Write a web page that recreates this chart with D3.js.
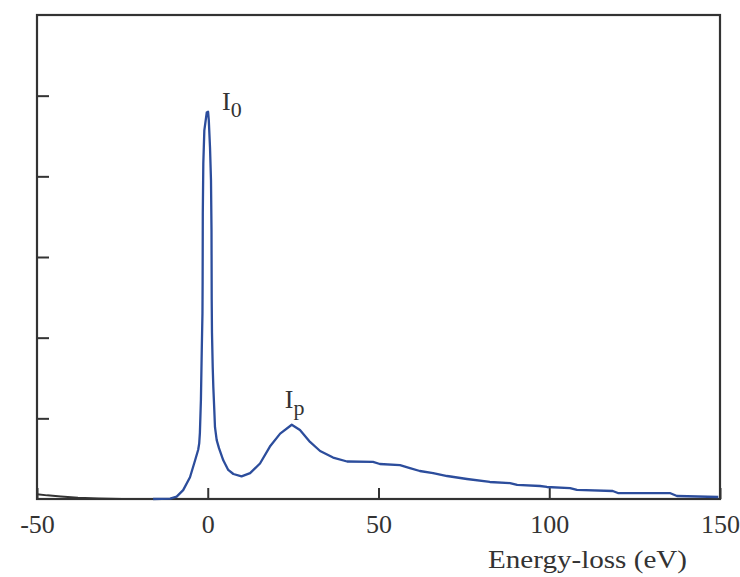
<!DOCTYPE html>
<html>
<head>
<meta charset="utf-8">
<script src="https://cdn.jsdelivr.net/npm/d3@7"></script>
<style>
  body { margin: 0; background: #fff; }
  svg text { font-family: "Liberation Serif", "Times New Roman", serif; fill: #333; }
</style>
</head>
<body>
<svg id="chart" width="740" height="577"></svg>
<script>
// Energy-loss spectrum (eV, arbitrary intensity)
var energy = [-16, -11, -9.1, -7.2, -5.2, -3.7, -2.8, -2.5, -2.3, -2.0, -1.75, -1.55, -1.5, -1.45, -1.3, -1.0, -0.3,
	0.1, 0.3, 0.66, 0.95, 1.1, 1.16, 1.24, 1.45, 1.63, 1.92, 2.12, 2.62, 3.29, 4.55, 6.0, 7.5, 9.9,
	12.4, 15.3, 18.2, 21.2, 24.6, 27.0, 29.95, 32.9, 36.7, 40.8, 48.4, 50.4, 56.3, 59.2, 62.1, 66.0,
	70.1, 75.9, 82.6, 88.5, 90.6, 97.3, 99.3, 106.1, 108.1, 118.6, 120.1, 135.3, 137.4, 149.5];
var intensity = [0, 0.005, 0.03, 0.11, 0.27, 0.48, 0.61, 0.69, 0.82, 1.23, 1.85, 2.3, 2.71, 3.55, 4.16, 4.57, 4.79,
	4.8, 4.7, 4.36, 3.95, 3.33, 2.47, 2.06, 1.64, 1.39, 1.10, 0.89, 0.73, 0.63, 0.48, 0.36, 0.31, 0.28,
	0.32, 0.44, 0.65, 0.81, 0.92, 0.855, 0.707, 0.595, 0.514, 0.465, 0.459, 0.434, 0.421, 0.384, 0.347, 0.322,
	0.285, 0.248, 0.211, 0.198, 0.174, 0.161, 0.149, 0.136, 0.112, 0.099, 0.074, 0.074, 0.037, 0.025];

// dark baseline piece on the gain side
var tailEnergy = [-50, -47, -43, -38, -32, -25, -16];
var tailIntensity = [0.06, 0.045, 0.03, 0.015, 0.006, 0, 0];

var xTickValues = [-50, 0, 50, 100, 150];
var yTickValues = [1, 2, 3, 4, 5];

// peak labels: main letter, subscript, energy of the peak
var peakNames = ['I', 'I'];
var peakSubs = ['0', 'p'];
var peakEnergy = [0.1, 24.6];

var svg = d3.select('#chart');

var margin = {top: 15, right: 20, bottom: 78, left: 37};
var width = 740 - margin.left - margin.right,
	height = 577 - margin.top - margin.bottom;

var x = d3.scaleLinear().domain([-50, 150]).range([margin.left, margin.left + width]);
var y = d3.scaleLinear().domain([0, 6]).range([margin.top + height, margin.top]);

// x axis, ticks pointing inside the frame
svg.append('g')
	.attr('transform', 'translate(0,' + (margin.top + height) + ')')
	.call(d3.axisBottom(x).tickValues(xTickValues).tickSize(-11).tickPadding(16)
		.tickFormat(function(d) { return String(d); }))
	.call(function(g) { g.select('.domain').remove(); })
	.call(function(g) {
		g.selectAll('line').attr('stroke', '#333').attr('stroke-width', 2);
		g.selectAll('text').style('font-size', '26px').attr('fill', '#333');
	});

// y axis, no labels
svg.append('g')
	.attr('transform', 'translate(' + margin.left + ',0)')
	.call(d3.axisLeft(y).tickValues(yTickValues).tickSize(-12).tickFormat(''))
	.call(function(g) { g.select('.domain').remove(); })
	.call(function(g) { g.selectAll('line').attr('stroke', '#333').attr('stroke-width', 2); });

// frame
svg.append('rect')
	.attr('x', margin.left)
	.attr('y', margin.top)
	.attr('width', width)
	.attr('height', height)
	.attr('fill', 'none')
	.attr('stroke', '#333')
	.attr('stroke-width', 2.2);

var line = d3.line()
	.x(function(d) { return x(d[0]); })
	.y(function(d) { return y(d[1]); });

svg.append('path')
	.datum(d3.zip(tailEnergy, tailIntensity))
	.attr('d', line)
	.attr('fill', 'none')
	.attr('stroke', '#333')
	.attr('stroke-width', 2);

svg.append('path')
	.datum(d3.zip(energy, intensity))
	.attr('d', line)
	.attr('fill', 'none')
	.attr('stroke', '#2c4d9c')
	.attr('stroke-width', 2.3)
	.attr('stroke-linejoin', 'round');

// peak labels
var labelDx = [14, -7];
var labelDy = [-2, -17];
peakNames.forEach(function(n, i) {
	var v = intensity[energy.indexOf(peakEnergy[i])];
	var t = svg.append('text')
		.attr('x', x(peakEnergy[i]) + labelDx[i])
		.attr('y', y(v) + labelDy[i])
		.style('font-size', '26px');
	t.append('tspan').text(n);
	t.append('tspan').attr('dy', 7).style('font-size', '22px').text(peakSubs[i]);
});

// axis title
svg.append('text')
	.attr('x', 488)
	.attr('y', 568)
	.attr('textLength', 199)
	.attr('lengthAdjust', 'spacingAndGlyphs')
	.style('font-size', '25px')
	.text('Energy-loss (eV)');
</script>
</body>
</html>
